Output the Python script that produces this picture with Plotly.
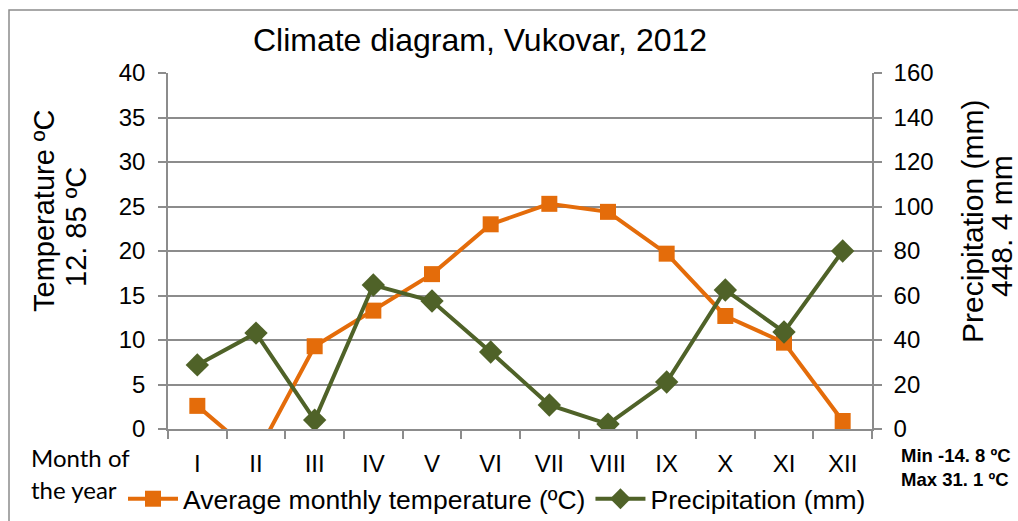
import plotly.graph_objects as go

# Monthly climate data for Vukovar, 2012
months = ["I", "II", "III", "IV", "V", "VI", "VII", "VIII", "IX", "X", "XI", "XII"]
temperature_c = [2.6, -3.0, 9.3, 13.3, 17.4, 23.0, 25.3, 24.4, 19.7, 12.7, 9.7, 0.9]
precipitation_mm = [28.8, 43.1, 4.0, 64.7, 57.5, 34.6, 10.8, 2.2, 21.1, 62.5, 43.6, 80.0]

ORANGE = "#E46C0A"
GREEN = "#4F6228"
GRID = "#8C8C8C"
FONT = "Liberation Sans, Arial, sans-serif"

W, H = 1018, 521
L, R, T, B = 168, 146, 73, 92
PW, PH = W - L - R, H - T - B


def px_x(x):
    return (x - L) / PW


def px_y(y):
    return (H - B - y) / PH


fig = go.Figure()
fig.add_trace(go.Scatter(
    x=months, y=temperature_c, name="Average monthly temperature (ºC)",
    mode="lines+markers", line=dict(color=ORANGE, width=4),
    marker=dict(symbol="square", size=16, color=ORANGE), yaxis="y",
))
fig.add_trace(go.Scatter(
    x=months, y=precipitation_mm, name="Precipitation (mm)",
    mode="lines+markers", line=dict(color=GREEN, width=4),
    marker=dict(symbol="diamond", size=18, color=GREEN), yaxis="y2",
))

fig.update_layout(
    width=W, height=H,
    margin=dict(l=L, r=R, t=T, b=B, autoexpand=False),
    paper_bgcolor="white", plot_bgcolor="white",
    font=dict(family=FONT, color="black", size=24),
    title=dict(text="Climate diagram, Vukovar, 2012", xref="container", x=480 / W,
               xanchor="center", y=1 - 40 / H, yanchor="middle", font=dict(size=32)),
    showlegend=True,
    legend=dict(orientation="h", x=px_x(123), xanchor="left", y=px_y(499), yanchor="middle",
                font=dict(size=26.5), itemwidth=50, tracegroupgap=0, bgcolor="rgba(0,0,0,0)"),
    xaxis=dict(type="category", showgrid=False, showline=True, linecolor=GRID, linewidth=1.5,
               ticks="outside", tickson="boundaries", ticklen=8, tickcolor=GRID, tickwidth=1.5,
               tickfont=dict(size=24), ticklabelstandoff=12, range=[-0.5, 11.5]),
    yaxis=dict(range=[0, 40], dtick=5, showgrid=True, gridcolor=GRID, gridwidth=1.5,
               showline=True, linecolor=GRID, linewidth=1.5, ticks="outside", ticklen=8,
               tickcolor=GRID, tickwidth=1.5, tickfont=dict(size=24), zeroline=False,
               ticklabelstandoff=8),
    yaxis2=dict(range=[0, 160], dtick=20, overlaying="y", side="right", showgrid=False,
                showline=True, linecolor=GRID, linewidth=1.5, ticks="outside", ticklen=8,
                tickcolor=GRID, tickwidth=1.5, tickfont=dict(size=24), zeroline=False,
                ticklabelstandoff=7),
)

# Outer chart frame
fig.add_shape(type="rect", xref="paper", yref="paper",
              x0=px_x(9), x1=px_x(W + 20), y0=px_y(H + 20), y1=px_y(10),
              line=dict(color=GRID, width=1.5), fillcolor="rgba(0,0,0,0)", layer="below")


def note(text, x, y, size, angle=0, xanchor="center", family=FONT):
    fig.add_annotation(text=text, xref="paper", yref="paper", x=px_x(x), y=px_y(y),
                       textangle=angle, showarrow=False, xanchor=xanchor, yanchor="middle",
                       align="left", font=dict(size=size, family=family))


# Axis titles
note("Temperature ºC", 44, 211, 29, angle=-90)
note("12. 85 ºC", 76, 227, 29, angle=-90)
note("Precipitation (mm)", 972, 222, 30, angle=-90)
note("448. 4 mm", 1001, 226, 30, angle=-90)

# Category axis caption
note("Month of", 29, 457, 24, xanchor="left", family="Lato, Open Sans, sans-serif")
note("the year", 29, 489, 24, xanchor="left", family="Lato, Open Sans, sans-serif")

# Extreme temperatures
note("<b>Min -14. 8 ºC</b>", 899, 455, 18.5, xanchor="left")
note("<b>Max 31. 1 ºC</b>", 899, 479, 18.5, xanchor="left")

fig.write_html("out.html")
